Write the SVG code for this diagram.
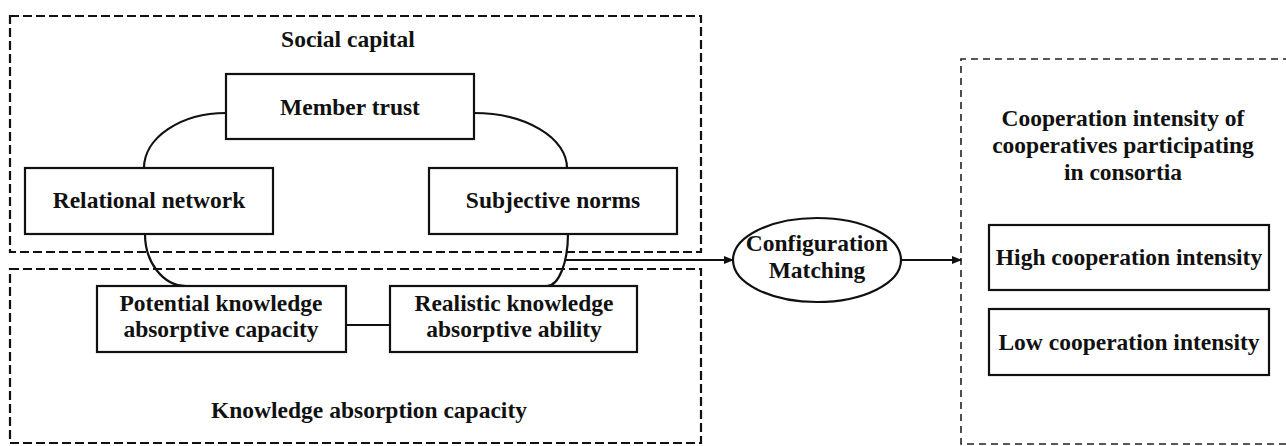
<svg xmlns="http://www.w3.org/2000/svg" width="1286" height="446" viewBox="0 0 1286 446">
<defs>
<style>
.t{font-family:"Liberation Serif","Times New Roman",serif;font-weight:bold;font-size:23.5px;fill:#111;text-anchor:middle}
.box{fill:#fff;stroke:#111;stroke-width:2.2}
.dash{fill:none;stroke:#111;stroke-width:2.2;stroke-dasharray:9 4}
.dash2{fill:none;stroke:#222;stroke-width:1.6;stroke-dasharray:7 5}
.ln{fill:none;stroke:#111;stroke-width:2.2}
</style>
<marker id="arr" markerWidth="10" markerHeight="8" refX="9" refY="4" orient="auto" markerUnits="userSpaceOnUse">
<path d="M0,0 L10,4 L0,8 Z" fill="#111"/>
</marker>
</defs>
<rect width="1286" height="446" fill="#fff"/>

<g id="social-capital">
<rect class="dash" x="10" y="16" width="691" height="236"/>
<text class="t" x="348" y="47">Social capital</text>
</g>
<g id="knowledge-absorption-capacity">
<rect class="dash" x="10" y="269" width="691" height="174"/>
<text class="t" x="369" y="418">Knowledge absorption capacity</text>
</g>
<g id="cooperation-intensity">
<path class="dash2" d="M1290,59 L961,59 L961,444 L1290,444"/>
<text class="t" x="1123" y="126">Cooperation intensity of</text>
<text class="t" x="1123" y="153">cooperatives participating</text>
<text class="t" x="1123" y="180">in consortia</text>
</g>

<g id="connectors">
<path class="ln" d="M226,113 A82,55 0 0 0 144,168"/>
<path class="ln" d="M474,113 A93,55 0 0 1 567,168"/>
<path class="ln" d="M145,234 A41,52 0 0 0 186,286"/>
<path class="ln" d="M568,234 A21,52 0 0 1 547,286"/>
<path class="ln" d="M346,325 L390,325"/>
<path class="ln" d="M565,260 L733,260" marker-end="url(#arr)"/>
<path class="ln" d="M901,260 L961,260" marker-end="url(#arr)"/>
</g>

<g id="member-trust">
<rect class="box" x="226" y="74" width="248" height="65"/>
<text class="t" x="350" y="115">Member trust</text>
</g>
<g id="relational-network">
<rect class="box" x="25" y="168" width="248" height="66"/>
<text class="t" x="149" y="208">Relational network</text>
</g>
<g id="subjective-norms">
<rect class="box" x="429" y="168" width="248" height="66"/>
<text class="t" x="553" y="208">Subjective norms</text>
</g>
<g id="potential-knowledge">
<rect class="box" x="97" y="286" width="249" height="66"/>
<text class="t" x="221" y="311">Potential knowledge</text>
<text class="t" x="221" y="337">absorptive capacity</text>
</g>
<g id="realistic-knowledge">
<rect class="box" x="390" y="286" width="247" height="66"/>
<text class="t" x="514" y="311">Realistic knowledge</text>
<text class="t" x="514" y="337">absorptive ability</text>
</g>
<g id="configuration-matching">
<ellipse cx="817" cy="260" rx="84" ry="42" fill="#fff" stroke="#111" stroke-width="2.2"/>
<text class="t" x="817" y="251">Configuration</text>
<text class="t" x="817" y="278">Matching</text>
</g>
<g id="high-intensity">
<rect class="box" x="989" y="225" width="280" height="65"/>
<text class="t" x="1129" y="265">High cooperation intensity</text>
</g>
<g id="low-intensity">
<rect class="box" x="989" y="309" width="280" height="66"/>
<text class="t" x="1129" y="350">Low cooperation intensity</text>
</g>
</svg>
